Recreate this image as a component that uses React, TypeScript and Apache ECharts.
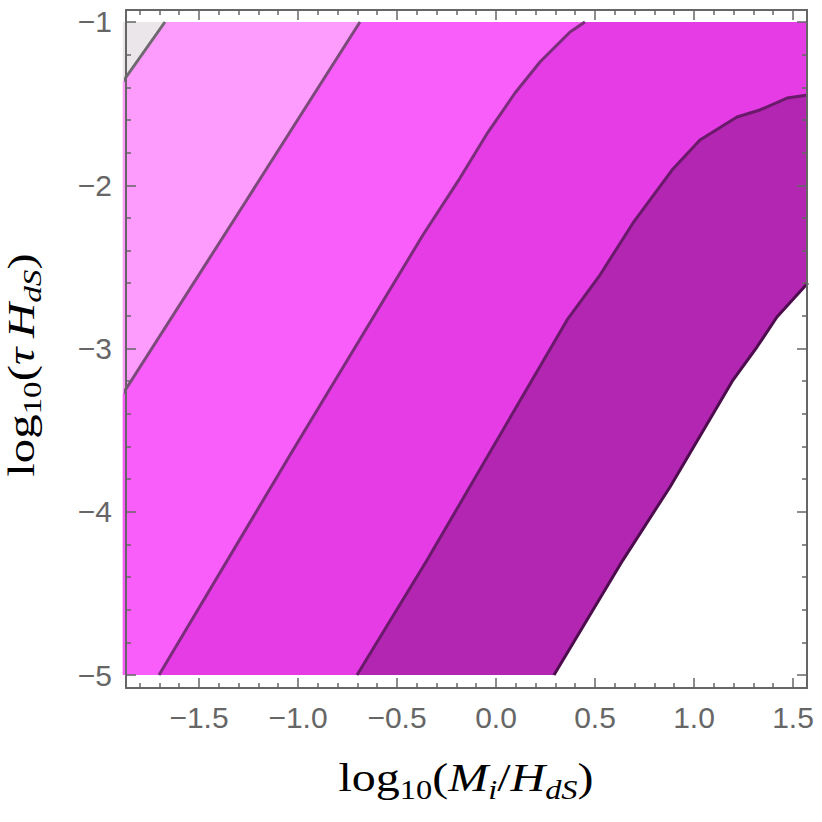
import React, { useEffect, useRef } from "react";
import * as echarts from "echarts";

// axis extents (frame) and data domain
const X_MIN = -1.8687;
const X_MAX = 1.5707;
const Y_MIN = -5.0796;
const Y_MAX = -0.9265;
const X0 = -1.885;
const X1 = 1.575;
const YB = -5;
const YT = -1;

const xMajorTicks = [-1.5, -1, -0.5, 0, 0.5, 1, 1.5];
const xMinorTicks = [
  -1.8, -1.7, -1.6, -1.4, -1.3, -1.2, -1.1, -0.9, -0.8, -0.7, -0.6, -0.4, -0.3, -0.2, -0.1,
  0.1, 0.2, 0.3, 0.4, 0.6, 0.7, 0.8, 0.9, 1.1, 1.2, 1.3, 1.4,
];
const yMajorTicks = [-5, -4, -3, -2, -1];
const yMinorTicks = [
  -4.8, -4.6, -4.4, -4.2, -3.8, -3.6, -3.4, -3.2, -2.8, -2.6, -2.4, -2.2, -1.8, -1.6, -1.4, -1.2,
];

// contour boundaries [log10(M/H), log10(tau H)]
const lineA = [
  [-1.885, -1.366],
  [-1.672, -1.0],
];
const lineB = [
  [-1.885, -3.279],
  [-1.259, -2.09],
  [-0.687, -1.0],
];
const lineC = [
  [-1.702, -5.0],
  [-1.025, -3.622],
  [-0.369, -2.305],
  [-0.182, -1.956],
  [-0.04, -1.674],
  [0.096, -1.435],
  [0.222, -1.245],
  [0.374, -1.061],
  [0.449, -1.0],
];
const lineD = [
  [-0.702, -5.0],
  [-0.348, -4.296],
  [0.359, -2.825],
  [0.525, -2.55],
  [0.692, -2.231],
  [0.889, -1.907],
  [1.03, -1.723],
  [1.217, -1.582],
  [1.333, -1.539],
  [1.47, -1.466],
  [1.575, -1.447],
];
const lineE = [
  [0.293, -5.0],
  [0.641, -4.296],
  [0.879, -3.848],
  [1.197, -3.193],
  [1.318, -2.991],
  [1.419, -2.807],
  [1.575, -2.599],
];

const xTitle = "{r|log}{s|10}{r|(}{i|M}{si|i}{r|/}{i|H}{si|dS}{r|)}";
const yTitle = "{r|log}{s|10}{r|(}{i|\u03c4\u2009H}{si|dS}{r|)}";

const fillColors = ["#ebe6ea", "#fd9cfd", "#fa5efa", "#e53ce5", "#b226b1", "#ffffff"];
const lineColors = ["#6f686f", "#7b4a7b", "#7a2d7a", "#6a1a6a", "#4d0c4d"];

const TICK = "#666666";
const LABEL = "#666666";

function fmt(v: number, dec: number) {
  const s = v.toFixed(dec);
  return s.replace("-", "\u2212");
}

export default function App() {
  const ref = useRef<HTMLDivElement>(null);
  useEffect(() => {
    if (!ref.current) return;
    const chart = echarts.init(ref.current, undefined, { renderer: "svg" });

    const regions = [
      [[X0, YT], [X1, YT], [X1, YB], [X0, YB]],
      [...lineA, [X1, YT], [X1, YB], [X0, YB]],
      [...lineB, [X1, YT], [X1, YB], [X0, YB]],
      [...lineC, [X1, YT], [X1, YB]],
      [...lineD, [X1, YB]],
      [...lineE, [X1, YB]],
    ];

    const polySeries = regions.map((pts, k) => ({
      type: "custom",
      xAxisIndex: 0,
      yAxisIndex: 0,
      clip: false,
      silent: true,
      z: 1,
      data: pts,
      renderItem: (params: any, api: any) => {
        if (params.dataIndex !== 0) return null;
        return {
          type: "polygon",
          shape: { points: pts.map((p) => api.coord(p)) },
          style: { fill: fillColors[k], stroke: "none" },
        };
      },
    }));

    const lines = [lineA, lineB, lineC, lineD, lineE];
    const lineSeries = lines.map((pts, k) => ({
      type: "line",
      xAxisIndex: 0,
      yAxisIndex: 0,
      data: pts,
      symbol: "none",
      clip: false,
      silent: true,
      z: 3,
      lineStyle: { color: lineColors[k], width: 3, join: "round" },
    }));

    const serif = "'Liberation Serif', 'Times New Roman', serif";
    const mkRich = (fs: number, sfs: number) => ({
      r: { fontFamily: serif, fontSize: fs, lineHeight: fs + 10, color: "#111" },
      i: { fontFamily: serif, fontSize: fs, lineHeight: fs + 10, fontStyle: "italic", color: "#111" },
      s: { fontFamily: serif, fontSize: sfs, lineHeight: 22, verticalAlign: "bottom", color: "#111" },
      si: {
        fontFamily: serif,
        fontSize: sfs,
        lineHeight: 22,
        fontStyle: "italic",
        verticalAlign: "bottom",
        color: "#111",
      },
    });

    const baseX = (pos: string, major: boolean, extra: any = {}) => ({
      type: "value",
      position: pos,
      min: X_MIN,
      max: X_MAX,
      z: 10,
      axisLine: { show: major, onZero: false, lineStyle: { color: TICK, width: 2 } },
      axisTick: {
        show: true,
        inside: true,
        length: major ? 10 : 5,
        customValues: major ? xMajorTicks : xMinorTicks,
        lineStyle: { color: TICK, width: 1.5 },
      },
      axisLabel: { show: false },
      splitLine: { show: false },
      ...extra,
    });
    const baseY = (pos: string, major: boolean, extra: any = {}) => ({
      type: "value",
      position: pos,
      min: Y_MIN,
      max: Y_MAX,
      z: 10,
      axisLine: { show: major, onZero: false, lineStyle: { color: TICK, width: 2 } },
      axisTick: {
        show: true,
        inside: true,
        length: major ? 10 : 5,
        customValues: major ? yMajorTicks : yMinorTicks,
        lineStyle: { color: TICK, width: 1.5 },
      },
      axisLabel: { show: false },
      splitLine: { show: false },
      ...extra,
    });

    const option: any = {
      animation: false,
      backgroundColor: "#ffffff",
      grid: {
        left: 126,
        right: 15,
        top: 10,
        bottom: 134,
        containLabel: false,
        outerBoundsMode: "none",
      },
      graphic: [
        {
          type: "text",
          x: 466,
          y: 778,
          scaleX: 1.2,
          silent: true,
          style: {
            text: xTitle,
            rich: mkRich(40, 27),
            align: "center",
            verticalAlign: "middle",
          },
        },
        {
          type: "text",
          x: 21,
          y: 365,
          rotation: Math.PI / 2,
          scaleX: 1.28,
          silent: true,
          style: {
            text: yTitle,
            rich: mkRich(38, 26),
            align: "center",
            verticalAlign: "middle",
          },
        },
      ],
      xAxis: [
        baseX("bottom", true, {
          axisLabel: {
            show: true,
            customValues: xMajorTicks,
            margin: 14,
            fontSize: 30,
            fontFamily: "'Liberation Sans', Arial, sans-serif",
            color: LABEL,
            formatter: (v: number) => fmt(v, 1),
          },
        }),
        baseX("bottom", false),
        baseX("top", true),
        baseX("top", false),
      ],
      yAxis: [
        baseY("left", true, {
          axisLabel: {
            show: true,
            customValues: yMajorTicks,
            margin: 14,
            fontSize: 30,
            fontFamily: "'Liberation Sans', Arial, sans-serif",
            color: LABEL,
            formatter: (v: number) => fmt(v, 0),
          },
        }),
        baseY("left", false),
        baseY("right", true),
        baseY("right", false),
      ],
      series: [...polySeries, ...lineSeries],
    };
    chart.setOption(option);
    return () => chart.dispose();
  }, []);
  return <div ref={ref} style={{ width: 822, height: 822, position: "absolute", left: 0, top: 0 }} />;
}
